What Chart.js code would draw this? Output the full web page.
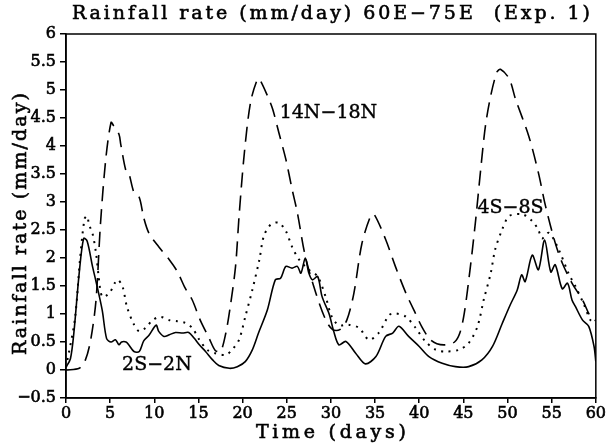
<!DOCTYPE html>
<html>
<head>
<meta charset="utf-8">
<script src="https://cdn.jsdelivr.net/npm/chart.js@4.4.1/dist/chart.umd.min.js"></script>
<style>
  html, body { margin: 0; padding: 0; background: #fff; }
  #wrap { width: 607px; height: 446px; }
</style>
</head>
<body>
<div id="wrap"><canvas id="rainChart" width="607" height="446"></canvas></div>
<script>
// --- data ---
// 2S-2N (solid)
const eqDays = [0, 0.5, 0.9, 1.5, 2.0, 2.4, 3.0, 3.4, 4.1, 4.6, 5.1, 5.6, 6.0, 6.3, 6.8, 7.1, 7.7, 8.3, 8.8, 9.4,
  10.2, 10.5, 11.1, 11.7, 12.4, 13.2, 13.9, 14.5, 15.1, 15.8, 16.6, 17.3, 18.5, 19.4, 20.3, 21.1, 21.8, 22.8, 23.7, 24.3,
  24.9, 25.6, 26.2, 26.6, 27.1, 27.5, 27.9, 28.5, 29.0, 29.8, 30.3, 30.9, 31.7, 32.8, 33.9, 35.1, 36.2, 37.0, 37.7, 38.8,
  40.0, 41.1, 42.6, 44.1, 45.6, 47.1, 48.3, 49.4, 50.3, 51.1, 51.6, 52.0, 52.8, 53.5, 54.2, 54.9, 55.4, 56.2, 56.8, 57.3,
  57.7, 58.5, 59.2, 59.8, 60];
const eqRain = [0.05, 0.2, 0.68, 1.74, 2.35, 2.3, 1.85, 1.58, 1.07, 0.56, 0.5, 0.54, 0.45, 0.5, 0.5, 0.45, 0.33, 0.33, 0.52, 0.62,
  0.8, 0.69, 0.6, 0.63, 0.67, 0.66, 0.67, 0.57, 0.45, 0.33, 0.18, 0.08, 0.03, 0.06, 0.15, 0.36, 0.66, 1.07, 1.61, 1.64,
  1.85, 1.82, 1.85, 1.73, 2.0, 1.73, 1.61, 1.67, 1.31, 1.0, 0.7, 0.45, 0.51, 0.3, 0.11, 0.24, 0.6, 0.66, 0.78, 0.6,
  0.42, 0.24, 0.12, 0.06, 0.06, 0.18, 0.42, 0.83, 1.16, 1.43, 1.7, 1.58, 2.05, 1.79, 2.32, 1.75, 1.88, 1.45, 1.55, 1.25,
  1.13, 0.89, 0.78, 0.42, 0.15];

// 14N-18N (dashed)
const northDays = [0, 1.5, 2.2, 2.8, 3.4, 3.9, 4.5, 5.1, 5.4, 6.0, 6.2, 6.8, 7.1, 7.7, 8.3, 8.8, 9.4, 10.5, 11.7, 12.6,
  13.5, 14.3, 15.2, 16.2, 16.9, 17.5, 18.1, 18.6, 19.2, 19.6, 20.2, 20.9, 21.7, 22.0, 22.8, 23.4, 24.1, 24.9, 25.6, 26.2,
  27.1, 28.3, 29.4, 30.2, 31.0, 31.8, 32.6, 33.5, 34.5, 34.9, 36.2, 37.3, 38.5, 39.4, 40.3, 41.2, 42.0, 43.0, 44.0, 44.6,
  45.1, 45.8, 46.4, 47.0, 47.5, 48.1, 48.8, 49.2, 50.2, 50.9, 52.4, 53.5, 54.3, 55.4, 56.2, 57.3, 58.5, 59.4, 60];
const northRain = [0, 0.03, 0.18, 0.54, 1.25, 2.6, 3.76, 4.42, 4.36, 4.21, 4.03, 3.55, 3.52, 3.17, 3.08, 2.72, 2.44, 2.2, 1.97, 1.76,
  1.46, 1.25, 0.89, 0.57, 0.35, 0.33, 0.66, 1.13, 1.85, 2.75, 3.88, 4.78, 5.2, 5.17, 4.9, 4.66, 4.24, 3.76, 3.23, 2.81,
  2.03, 1.37, 0.9, 0.72, 0.72, 0.89, 1.37, 2.25, 2.75, 2.78, 2.33, 1.85, 1.37, 1.07, 0.77, 0.55, 0.47, 0.45, 0.5, 0.66,
  1.01, 1.85, 2.69, 3.64, 4.36, 4.9, 5.32, 5.37, 5.2, 4.84, 4.18, 3.52, 2.93, 2.27, 1.91, 1.55, 1.25, 0.95, 0.88];

// 4S-8S (dotted)
const southDays = [0, 1.0, 1.6, 2.1, 2.4, 2.6, 3.0, 3.4, 3.7, 4.1, 4.9, 5.8, 6.4, 6.9, 7.7, 8.3, 9.0, 9.8, 10.7, 11.7,
  12.6, 13.5, 14.3, 15.1, 16.0, 16.9, 18.1, 18.8, 19.6, 20.3, 21.1, 21.9, 22.4, 23.2, 24.1, 24.9, 25.6, 26.4, 27.5, 28.5,
  29.4, 30.1, 30.9, 32.0, 33.2, 34.3, 35.4, 36.6, 37.3, 38.5, 39.6, 40.7, 41.9, 43.0, 44.5, 45.6, 46.6, 47.3, 48.1, 48.6,
  49.4, 50.2, 51.7, 52.8, 53.5, 53.9, 54.7, 55.8, 56.9, 57.7, 58.6, 59.4, 60];
const southRain = [0.05, 0.9, 2.0, 2.7, 2.75, 2.6, 2.44, 2.09, 1.67, 1.31, 1.37, 1.61, 1.49, 1.13, 0.81, 0.69, 0.75, 0.89, 0.95, 0.89,
  0.87, 0.84, 0.75, 0.54, 0.36, 0.3, 0.27, 0.36, 0.54, 0.95, 1.43, 1.97, 2.39, 2.6, 2.63, 2.48, 2.2, 1.97, 1.79, 1.67,
  1.31, 0.95, 0.8, 0.81, 0.75, 0.54, 0.66, 0.98, 1.01, 0.95, 0.75, 0.51, 0.36, 0.33, 0.36, 0.48, 0.78, 1.25, 1.73, 2.15,
  2.51, 2.75, 2.78, 2.66, 2.5, 2.35, 2.45, 2.15, 1.73, 1.49, 1.19, 0.89, 0.82];

const xTicks = [0, 5, 10, 15, 20, 25, 30, 35, 40, 45, 50, 55, 60];
const yTicks = [-0.5, 0, 0.5, 1, 1.5, 2, 2.5, 3, 3.5, 4, 4.5, 5, 5.5, 6];

const seriesNames = ['2S−2N', '14N−18N', '4S−8S'];
// where each curve name sits, in data units (day, mm/day)
const labelDays = [6.35, 24.2, 46.6];
const labelRain = [0.09, 4.59, 2.89];

const chartTitle = 'Rainfall rate (mm/day) 60E−75E  (Exp. 1)';
const xTitle = 'Time (days)';
const yTitle = 'Rainfall rate (mm/day)';

function toPoints(xs, ys) {
  return xs.map((x, i) => ({ x: x, y: ys[i] }));
}

// spread a centred string out to a given width (the original used a wide typewriter face)
function spreadText(ctx, text, x, y, width) {
  ctx.letterSpacing = '0px';
  const w = ctx.measureText(text).width;
  const sp = Math.max(0, (width - w) / (text.length - 1));
  ctx.letterSpacing = sp + 'px';
  ctx.strokeText(text, x + sp / 2, y);
  ctx.fillText(text, x + sp / 2, y);
  ctx.letterSpacing = '0px';
}

// --- frame, title, axis titles and curve names ---
const textPlugin = {
  id: 'textPlugin',
  afterDraw(chart) {
    const ctx = chart.ctx;
    const a = chart.chartArea;
    const xs = chart.scales.x, ys = chart.scales.y;
    ctx.save();
    ctx.strokeStyle = '#000';
    ctx.lineWidth = 1.5;
    ctx.strokeRect(a.left, a.top, a.right - a.left, a.bottom - a.top);

    ctx.fillStyle = '#000';
    ctx.lineWidth = 0.6;
    ctx.textBaseline = 'middle';
    ctx.textAlign = 'center';
    ctx.font = '19px "DejaVu Serif"';
    spreadText(ctx, chartTitle, (a.left + a.right) / 2, 14, 518);
    spreadText(ctx, xTitle, (a.left + a.right) / 2, 433, 150);

    ctx.save();
    ctx.translate(21, 224);
    ctx.rotate(-Math.PI / 2);
    spreadText(ctx, yTitle, 0, 0, 262);
    ctx.restore();

    ctx.textAlign = 'left';
    ctx.lineWidth = 0.4;
    seriesNames.forEach((name, i) => {
      const px = xs.getPixelForValue(labelDays[i]);
      const py = ys.getPixelForValue(labelRain[i]);
      ctx.strokeText(name, px, py);
      ctx.fillText(name, px, py);
    });
    ctx.restore();
  }
};

const ctx = document.getElementById('rainChart').getContext('2d');
new Chart(ctx, {
  type: 'line',
  data: {
    datasets: [{
      label: seriesNames[0],
      data: toPoints(eqDays, eqRain),
      borderColor: '#000',
      borderWidth: 1.6,
      pointRadius: 0,
      tension: 0.3
    }, {
      label: seriesNames[1],
      data: toPoints(northDays, northRain),
      borderColor: '#000',
      borderWidth: 1.6,
      borderDash: [15, 8],
      pointRadius: 0,
      tension: 0.3
    }, {
      label: seriesNames[2],
      data: toPoints(southDays, southRain),
      borderColor: '#000',
      borderWidth: 2,
      borderDash: [2, 5.5],
      pointRadius: 0,
      tension: 0.3
    }]
  },
  options: {
    responsive: false,
    animation: false,
    devicePixelRatio: 1,
    layout: { padding: { top: 34, right: 11, left: 0, bottom: 0 } },
    plugins: {
      legend: { display: false },
      title: { display: false },
      tooltip: { enabled: false }
    },
    scales: {
      x: {
        type: 'linear',
        min: 0,
        max: 60,
        afterBuildTicks: s => { s.ticks = xTicks.map(v => ({ value: v })); },
        afterFit: s => { s.height = 48; },
        ticks: {
          color: '#000', font: { family: 'DejaVu Serif', size: 16 }, padding: 1, maxRotation: 0,
          textStrokeColor: '#000', textStrokeWidth: 0.6
        },
        grid: { drawOnChartArea: false, tickLength: 5, color: '#000', lineWidth: 1.5 },
        border: { color: '#000', width: 1.5 }
      },
      y: {
        min: -0.5,
        max: 6,
        afterBuildTicks: s => { s.ticks = yTicks.map(v => ({ value: v })); },
        afterFit: s => { s.width = 66; },
        ticks: {
          color: '#000',
          font: { family: 'DejaVu Serif', size: 16 },
          padding: 4,
          textStrokeColor: '#000',
          textStrokeWidth: 0.6,
          callback: v => String(v).replace('-', '−')
        },
        grid: { drawOnChartArea: false, tickLength: 6, color: '#000', lineWidth: 1.5 },
        border: { color: '#000', width: 1.5 }
      }
    }
  },
  plugins: [textPlugin]
});
</script>
</body>
</html>
